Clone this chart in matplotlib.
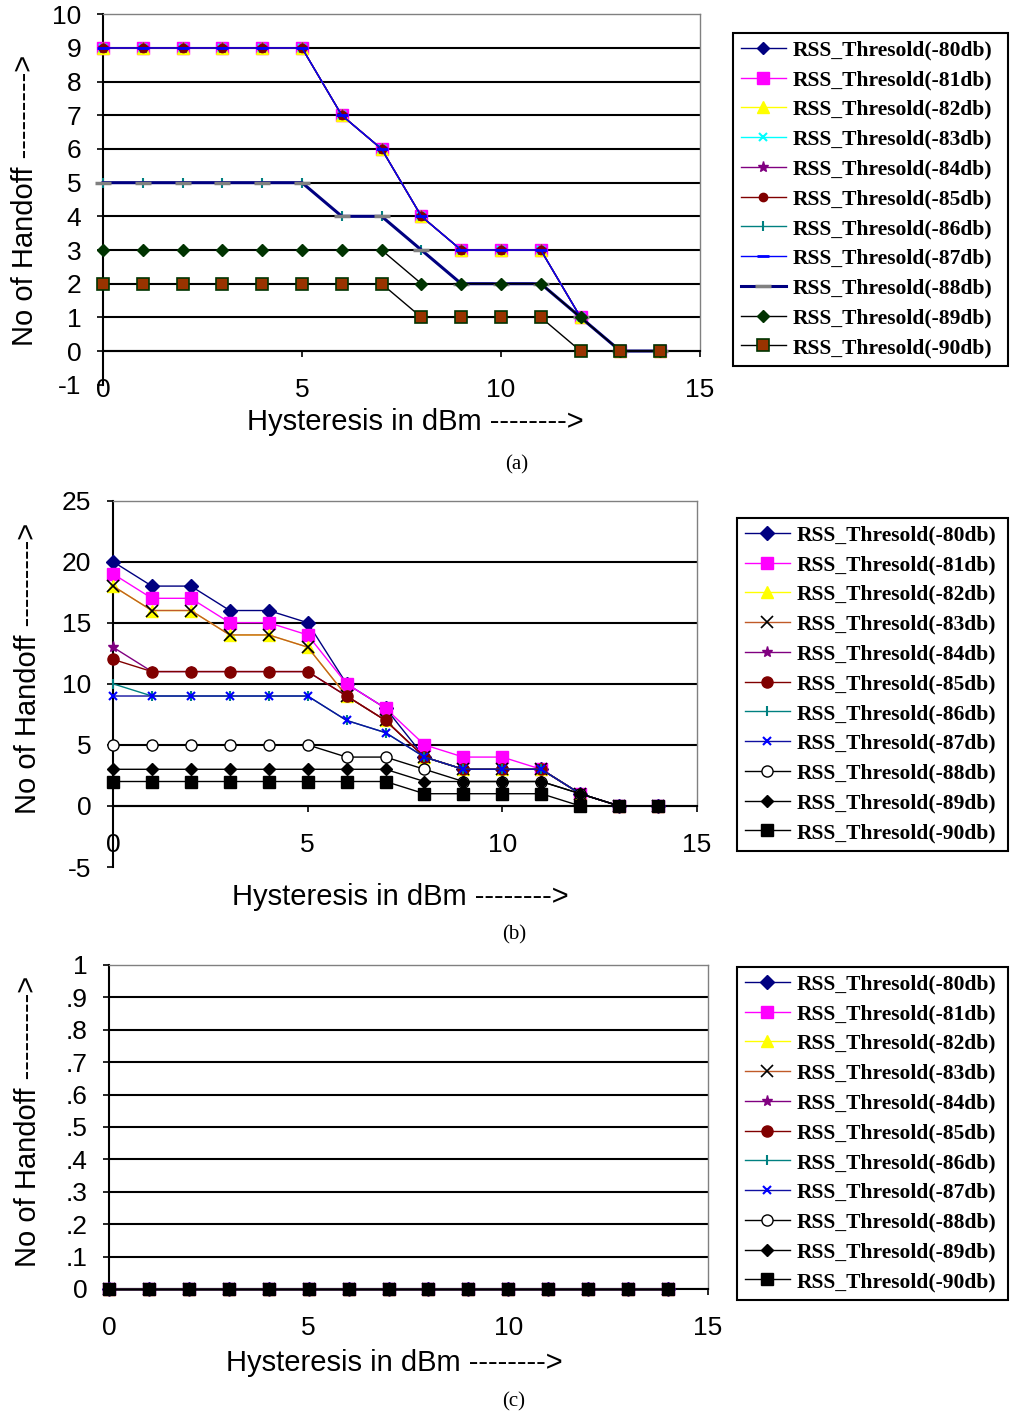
import matplotlib
matplotlib.use('Agg')
import matplotlib.pyplot as plt

W, H, DPI = 1010, 1418, 100

hysteresis = [0, 1, 2, 3, 4, 5, 6, 7, 8, 9, 10, 11, 12, 13, 14]
series_labels = ['RSS_Thresold(-80db)', 'RSS_Thresold(-81db)', 'RSS_Thresold(-82db)',
                 'RSS_Thresold(-83db)', 'RSS_Thresold(-84db)', 'RSS_Thresold(-85db)',
                 'RSS_Thresold(-86db)', 'RSS_Thresold(-87db)', 'RSS_Thresold(-88db)',
                 'RSS_Thresold(-89db)', 'RSS_Thresold(-90db)']

# ---- panel (a) ----
a_m80 = [9, 9, 9, 9, 9, 9, 7, 6, 4, 3, 3, 3, 1, 0, 0]
a_m81 = [9, 9, 9, 9, 9, 9, 7, 6, 4, 3, 3, 3, 1, 0, 0]
a_m82 = [9, 9, 9, 9, 9, 9, 7, 6, 4, 3, 3, 3, 1, 0, 0]
a_m83 = [9, 9, 9, 9, 9, 9, 7, 6, 4, 3, 3, 3, 1, 0, 0]
a_m84 = [9, 9, 9, 9, 9, 9, 7, 6, 4, 3, 3, 3, 1, 0, 0]
a_m85 = [9, 9, 9, 9, 9, 9, 7, 6, 4, 3, 3, 3, 1, 0, 0]
a_m86 = [5, 5, 5, 5, 5, 5, 4, 4, 3, 2, 2, 2, 1, 0, 0]
a_m87 = [9, 9, 9, 9, 9, 9, 7, 6, 4, 3, 3, 3, 1, 0, 0]
a_m88 = [5, 5, 5, 5, 5, 5, 4, 4, 3, 2, 2, 2, 1, 0, 0]
a_m89 = [3, 3, 3, 3, 3, 3, 3, 3, 2, 2, 2, 2, 1, 0, 0]
a_m90 = [2, 2, 2, 2, 2, 2, 2, 2, 1, 1, 1, 1, 0, 0, 0]
a_yticks = [-1, 0, 1, 2, 3, 4, 5, 6, 7, 8, 9, 10]
a_yticklabels = ['-1', '0', '1', '2', '3', '4', '5', '6', '7', '8', '9', '10']

# ---- panel (b) ----
b_m80 = [20, 18, 18, 16, 16, 15, 10, 8, 4, 3, 3, 3, 1, 0, 0]
b_m81 = [19, 17, 17, 15, 15, 14, 10, 8, 5, 4, 4, 3, 1, 0, 0]
b_m82 = [18, 16, 16, 14, 14, 13, 9, 7, 4, 3, 3, 3, 1, 0, 0]
b_m83 = [18, 16, 16, 14, 14, 13, 9, 7, 4, 3, 3, 3, 1, 0, 0]
b_m84 = [13, 11, 11, 11, 11, 11, 9, 7, 4, 3, 3, 3, 1, 0, 0]
b_m85 = [12, 11, 11, 11, 11, 11, 9, 7, 4, 3, 3, 3, 1, 0, 0]
b_m86 = [10, 9, 9, 9, 9, 9, 7, 6, 4, 3, 3, 3, 1, 0, 0]
b_m87 = [9, 9, 9, 9, 9, 9, 7, 6, 4, 3, 3, 3, 1, 0, 0]
b_m88 = [5, 5, 5, 5, 5, 5, 4, 4, 3, 2, 2, 2, 1, 0, 0]
b_m89 = [3, 3, 3, 3, 3, 3, 3, 3, 2, 2, 2, 2, 1, 0, 0]
b_m90 = [2, 2, 2, 2, 2, 2, 2, 2, 1, 1, 1, 1, 0, 0, 0]
b_yticks = [-5, 0, 5, 10, 15, 20, 25]
b_yticklabels = ['-5', '0', '5', '10', '15', '20', '25']

# ---- panel (c) ----
c_m80 = [0, 0, 0, 0, 0, 0, 0, 0, 0, 0, 0, 0, 0, 0, 0]
c_m81 = [0, 0, 0, 0, 0, 0, 0, 0, 0, 0, 0, 0, 0, 0, 0]
c_m82 = [0, 0, 0, 0, 0, 0, 0, 0, 0, 0, 0, 0, 0, 0, 0]
c_m83 = [0, 0, 0, 0, 0, 0, 0, 0, 0, 0, 0, 0, 0, 0, 0]
c_m84 = [0, 0, 0, 0, 0, 0, 0, 0, 0, 0, 0, 0, 0, 0, 0]
c_m85 = [0, 0, 0, 0, 0, 0, 0, 0, 0, 0, 0, 0, 0, 0, 0]
c_m86 = [0, 0, 0, 0, 0, 0, 0, 0, 0, 0, 0, 0, 0, 0, 0]
c_m87 = [0, 0, 0, 0, 0, 0, 0, 0, 0, 0, 0, 0, 0, 0, 0]
c_m88 = [0, 0, 0, 0, 0, 0, 0, 0, 0, 0, 0, 0, 0, 0, 0]
c_m89 = [0, 0, 0, 0, 0, 0, 0, 0, 0, 0, 0, 0, 0, 0, 0]
c_m90 = [0, 0, 0, 0, 0, 0, 0, 0, 0, 0, 0, 0, 0, 0, 0]
c_yticks = [0, 0.1, 0.2, 0.3, 0.4, 0.5, 0.6, 0.7, 0.8, 0.9, 1.0]
c_yticklabels = ['0', '.1', '.2', '.3', '.4', '.5', '.6', '.7', '.8', '.9', '1']

x_ticks = [0, 5, 10, 15]
x_ticklabels = ['0', '5', '10', '15']

# ---- styles ----
a_styles = [
    dict(color='#000080', marker='D', ms=6, mfc='#000080', mec='#000080'),
    dict(color='#FF00FF', marker='s', ms=8.5, mfc='#FF00FF', mec='#FF00FF'),
    dict(color='#FFFF00', marker='^', ms=8, mfc='#FFFF00', mec='#FFFF00'),
    dict(color='#00FFFF', marker='x', ms=6, mec='#00FFFF', mew=1.5),
    dict(color='#800080', marker='*', ms=8, mfc='#800080', mec='#800080'),
    dict(color='#800000', marker='o', ms=6, mfc='#800000', mec='#800000'),
    dict(color='#008080', marker='|', ms=7, mec='#008080', mew=1.5),
    dict(color='#0000FF', marker='_', ms=8, mec='#0000FF', mew=2),
    dict(color='#000080', lw=2.2, marker='_', ms=12, mec='#808080', mew=2.5),
    dict(color='black', marker='D', ms=6, mfc='#003300', mec='#003300'),
    dict(color='black', marker='s', ms=9, mfc='#993300', mec='#003300', mew=1.2),
]
b_styles = [
    dict(color='#000080', marker='D', ms=7, mfc='#000080', mec='#000080'),
    dict(color='#FF00FF', marker='s', ms=8.5, mfc='#FF00FF', mec='#FF00FF'),
    dict(color='#FFFF00', marker='^', ms=9, mfc='#FFFF00', mec='#FFFF00'),
    dict(color='#C05A28', marker='x', ms=8, mec='black', mew=1.2),
    dict(color='#800080', marker='*', ms=8, mfc='#800080', mec='#800080'),
    dict(color='#800000', marker='o', ms=8, mfc='#800000', mec='#800000'),
    dict(color='#008080', marker='|', ms=7, mec='#008080', mew=1.5),
    dict(color='#1010A0', marker='x', ms=6, mec='#0000FF', mew=1.5),
    dict(color='black', marker='o', ms=8, mfc='white', mec='black'),
    dict(color='black', marker='D', ms=6, mfc='black', mec='black'),
    dict(color='black', marker='s', ms=8.5, mfc='black', mec='black'),
]

LABEL_FONT = dict(family='Liberation Sans', size=21)
LEG_FONT = dict(family='Liberation Serif', weight='bold', size=15.5)

fig = plt.figure(figsize=(W / DPI, H / DPI), dpi=DPI)


def px_axes(l, r, t, b):
    return fig.add_axes([l / W, 1 - b / H, (r - l) / W, (b - t) / H])


def panel(box, series, styles, ylim, yticks, yticklabels, legbox,
          ylabel_xy, xlabel_xy, caption, caption_xy):
    ax = px_axes(*box)
    ax.spines['bottom'].set_position(('data', 0))
    for vals, st, lab in zip(series, styles, series_labels):
        kw = dict(lw=1.0)
        kw.update(st)
        ax.plot(hysteresis, vals, label=lab, clip_on=False, zorder=3, **kw)
    ax.set_xlim(0, 15)
    ax.set_ylim(*ylim)
    ax.set_xticks(x_ticks)
    ax.set_xticklabels(x_ticklabels)
    ax.set_yticks(yticks)
    ax.set_yticklabels(yticklabels)
    for v in yticks:
        if 0 <= v < ylim[1] - 1e-9:
            ax.axhline(v, color='black', lw=1.5, zorder=1)
    ax.spines['bottom'].set_linewidth(1.5)
    ax.spines['left'].set_linewidth(1.5)
    for s in ('top', 'right'):
        ax.spines[s].set_color('#808080')
        ax.spines[s].set_linewidth(1.0)
    ax.spines['right'].set_bounds(0, ylim[1])
    ax.tick_params(axis='both', direction='out', length=4.5, width=1.2, colors='black',
                   labelsize=19, labelfontfamily='Liberation Sans')
    ax.tick_params(axis='x', pad=15)
    ax.tick_params(axis='y', pad=11)

    handles, labs = ax.get_legend_handles_labels()
    x0, x1, y0 = legbox
    leg = fig.legend(handles, labs, loc='upper left',
                     bbox_to_anchor=(x0 / W, 1 - y0 / H, (x1 - x0) / W, 0.0001),
                     mode='expand', borderaxespad=0, prop=LEG_FONT,
                     handlelength=2.1, handletextpad=0.3, labelspacing=0.45,
                     borderpad=0.35, fancybox=False, framealpha=1,
                     edgecolor='black', numpoints=1)
    leg.get_frame().set_linewidth(1.5)

    fig.text(ylabel_xy[0] / W, 1 - ylabel_xy[1] / H, 'No of Handoff --------->',
             rotation=90, ha='center', va='center', fontdict=LABEL_FONT)
    fig.text(xlabel_xy[0] / W, 1 - xlabel_xy[1] / H, 'Hysteresis in dBm -------->',
             ha='center', va='center', fontdict=LABEL_FONT)
    fig.text(caption_xy[0] / W, 1 - caption_xy[1] / H, caption,
             ha='center', va='center', family='Liberation Serif', size=15)
    return ax


panel((103, 700, 14.3, 384.7),
      [a_m80, a_m81, a_m82, a_m83, a_m84, a_m85, a_m86, a_m87, a_m88, a_m89, a_m90],
      a_styles, (-1, 10), a_yticks, a_yticklabels, (733, 1008, 33),
      (25, 200), (415, 422), '(a)', (517, 465))

panel((113, 697, 500.6, 867),
      [b_m80, b_m81, b_m82, b_m83, b_m84, b_m85, b_m86, b_m87, b_m88, b_m89, b_m90],
      b_styles, (-5, 25), b_yticks, b_yticklabels, (737, 1008, 518),
      (28, 668), (400, 897), '(b)', (514, 935))

panel((109, 708, 965, 1289),
      [c_m80, c_m81, c_m82, c_m83, c_m84, c_m85, c_m86, c_m87, c_m88, c_m89, c_m90],
      b_styles, (0, 1), c_yticks, c_yticklabels, (737, 1008, 967),
      (28, 1121), (394, 1363), '(c)', (514, 1402))

fig.savefig('out.png', dpi=DPI)
